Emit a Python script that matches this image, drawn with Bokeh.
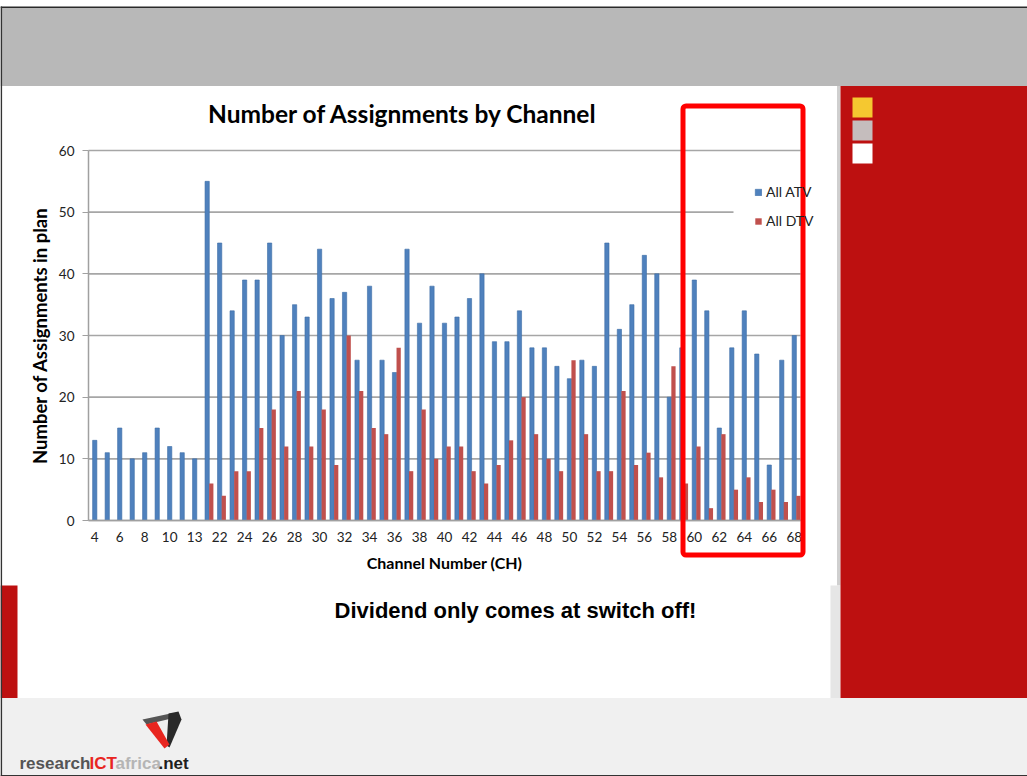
from bokeh.plotting import figure
from bokeh.models import (Range1d, ColumnDataSource, BoxAnnotation, Label,
                          Legend, LegendItem, FixedTicker, LinearAxis)
from bokeh.transform import dodge
from bokeh.embed import file_html
from bokeh.resources import INLINE

# ---------------- data ----------------
channels = ["4", "5", "6", "7", "8", "9", "10", "11", "13",
            "21", "22", "23", "24", "25", "26", "27", "28", "29", "30",
            "31", "32", "33", "34", "35", "36", "37", "38", "39", "40",
            "41", "42", "43", "44", "45", "46", "47", "48", "49", "50",
            "51", "52", "53", "54", "55", "56", "57", "58", "59", "60",
            "61", "62", "63", "64", "65", "66", "67", "68"]
all_atv = [13, 11, 15, 10, 11, 15, 12, 11, 10,
           55, 45, 34, 39, 39, 45, 30, 35, 33, 44,
           36, 37, 26, 38, 26, 24, 44, 32, 38, 32,
           33, 36, 40, 29, 29, 34, 28, 28, 25, 23,
           26, 25, 45, 31, 35, 43, 40, 20, 28, 39,
           34, 15, 28, 34, 27, 9, 26, 30]
all_dtv = [0, 0, 0, 0, 0, 0, 0, 0, 0,
           6, 4, 8, 8, 15, 18, 12, 21, 12, 18,
           9, 30, 21, 15, 14, 28, 8, 18, 10, 12,
           12, 8, 6, 9, 13, 20, 14, 10, 8, 26,
           14, 8, 8, 21, 9, 11, 7, 25, 6, 12,
           2, 14, 5, 7, 3, 5, 3, 4]
y_ticks = [0, 10, 20, 30, 40, 50, 60]
series_names = ["All ATV", "All DTV"]
series_colors = ["#4f81bd", "#c0504d"]

# ---------------- geometry ----------------
W, H = 1027, 776
FL, FR, FT, FB = 88, 800, 150, 520          # chart plot area (pixels)
n = len(channels)
cw = (FR - FL) / n                          # pixels per category
ppu = (FB - FT) / 60.0                      # pixels per count unit

idx = list(range(n))
src = ColumnDataSource(dict(idx=idx, ch=channels, atv=all_atv, dtv=all_dtv))

p = figure(width=W, height=H,
           x_range=Range1d(0, W), y_range=Range1d(H, 0),
           x_axis_location=None, y_axis_location=None,
           output_backend="svg", toolbar_location=None,
           min_border=0, min_border_left=0, min_border_right=0,
           min_border_top=0, min_border_bottom=0)
p.title.text = ""
p.grid.visible = False
p.background_fill_color = "white"
p.border_fill_color = "white"
p.outline_line_color = None

# chart coordinate systems (category index / count)
p.extra_x_ranges = {"ch": Range1d(-FL / cw - 0.5, (W - FL) / cw - 0.5)}
p.extra_y_ranges = {"cnt": Range1d(-(H - FB) / ppu, FB / ppu)}

# ---------------- slide decorations (pixel coordinates) ----------------
def rect(x0, x1, y0, y1, color):
    p.quad(left=x0, right=x1, top=y0, bottom=y1, fill_color=color, line_color=None)

rect(0, W, 7, 85.5, "#b8b8b8")            # top gray band
rect(0, W, 6, 7.4, "#2a2a2a")             # top border line
rect(836.5, 840, 85.5, 585, "#cfcfcf")    # gap
rect(830, 840, 585, 697.5, "#e6e6e6")
rect(840, W, 85.5, 697.5, "#bd1010")      # right red panel
rect(852, 872, 97, 117, "#f5c830")
rect(852, 872, 120, 140, "#c5bdbd")
rect(852, 872, 143, 163, "#ffffff")
rect(0, 17, 585, 697.5, "#bd1010")        # left red strip
rect(0, W, 697.5, H, "#f0f0f0")           # bottom band
rect(0, W, 774.5, H, "#333333")           # bottom border line
rect(0, 1.6, 6, H, "#333333")             # left border line

# ---------------- chart ----------------
p.segment(x0=-0.5, x1=n - 0.5, y0=y_ticks, y1=y_ticks,
          x_range_name="ch", y_range_name="cnt",
          line_color="#a6a6a6", line_width=1.6)
# legend plate (covers the gridline like the original legend box)
rect(733, 815, 178, 238, "#ffffff")

r1 = p.vbar(x=dodge("idx", 0.0), top="atv", width=0.34, source=src,
            x_range_name="ch", y_range_name="cnt",
            fill_color=series_colors[0], line_color="#3d6da6", line_width=0.6)
r2 = p.vbar(x=dodge("idx", 0.33), top="dtv", width=0.34, source=src,
            x_range_name="ch", y_range_name="cnt",
            fill_color=series_colors[1], line_color=None)

yaxis = LinearAxis(x_range_name="ch", y_range_name="cnt", fixed_location=-0.5,
                   bounds=(0, 60), ticker=FixedTicker(ticks=y_ticks))
yaxis.axis_line_color = "#a0a0a0"
yaxis.axis_line_width = 1.5
yaxis.major_tick_line_color = "#a0a0a0"
yaxis.major_tick_out = 6
yaxis.major_tick_in = 0
yaxis.minor_tick_line_color = None
yaxis.major_label_standoff = 8
yaxis.major_label_text_font = "Lato"
yaxis.major_label_text_font_size = "13.5px"
yaxis.major_label_text_color = "#222222"
yaxis.axis_label = "Number of Assignments in plan"
yaxis.axis_label_text_font = "Lato"
yaxis.axis_label_text_font_style = "bold"
yaxis.axis_label_text_font_size = "18.5px"
yaxis.axis_label_text_color = "#000000"
yaxis.axis_label_standoff = 5
p.add_layout(yaxis, "left")

even = [i for i in idx if i % 2 == 0]
xaxis = LinearAxis(x_range_name="ch", y_range_name="cnt", fixed_location=0,
                   bounds=(-0.5, n - 0.5), ticker=FixedTicker(ticks=even))
xaxis.major_label_overrides = {i: channels[i] for i in even}
xaxis.axis_line_color = "#a0a0a0"
xaxis.axis_line_width = 1.5
xaxis.major_tick_line_color = None
xaxis.major_tick_out = 0
xaxis.major_tick_in = 0
xaxis.minor_tick_line_color = None
xaxis.major_label_standoff = 11
xaxis.major_label_text_font = "Lato"
xaxis.major_label_text_font_size = "13.5px"
xaxis.major_label_text_color = "#222222"
xaxis.axis_label = "Channel Number (CH)"
xaxis.axis_label_text_font = "Lato"
xaxis.axis_label_text_font_style = "bold"
xaxis.axis_label_text_font_size = "16px"
xaxis.axis_label_text_color = "#000000"
xaxis.axis_label_standoff = 8
p.add_layout(xaxis, "below")

legend = Legend(items=[LegendItem(label=series_names[0], renderers=[r1]),
                       LegendItem(label=series_names[1], renderers=[r2])],
                location=(754, H - 229), margin=0, padding=0,
                glyph_width=8, glyph_height=8, label_height=16, spacing=12,
                label_standoff=4, label_text_font="Lato", label_text_font_size="14px",
                label_text_color="#222222", border_line_color=None,
                background_fill_alpha=0)
p.add_layout(legend)

# highlight rectangle
hl = BoxAnnotation(left=682.5, right=802.5, top=105.5, bottom=554.5,
                   fill_alpha=0, line_color="#ff0000", line_alpha=1, line_width=5,
                   border_radius=3, level="overlay")
p.add_layout(hl)

def label(x, y, text, size, font="Lato", style="bold", color="#000000",
          align="center", baseline="middle"):
    p.add_layout(Label(x=x, y=y, text=text,
                       text_font=font, text_font_size=size, text_font_style=style,
                       text_color=color, text_align=align, text_baseline=baseline,
                       level="overlay"))

label(402.5, 113, "Number of Assignments by Channel", "24.5px")
label(515, 610, "Dividend only comes at switch off!", "22px", font="Liberation Sans")

# logo
label(19, 763, "research", "17px", font="Liberation Sans", color="#555555",
      align="left", baseline="alphabetic")
label(89, 763, "ICT", "17px", font="Liberation Sans", color="#e8251f",
      align="left", baseline="alphabetic")
label(115, 763, "africa", "17px", font="Liberation Sans", color="#b5b5b5",
      align="left", baseline="alphabetic")
label(158, 763, ".net", "17px", font="Liberation Sans", color="#1e1e1e",
      align="left", baseline="alphabetic")

def poly(pts, color):
    p.patch(x=[a for a, b in pts], y=[b for a, b in pts], fill_color=color, line_color=None)

poly([(142, 719), (170, 713), (175, 717), (146, 724)], "#555555")
poly([(168, 713), (178, 711), (181, 719), (169, 747), (166, 745)], "#2a2a2a")
poly([(145, 724), (156, 721), (169, 744), (164, 748)], "#e8251f")

open("out.html", "w").write(file_html(p, INLINE))
